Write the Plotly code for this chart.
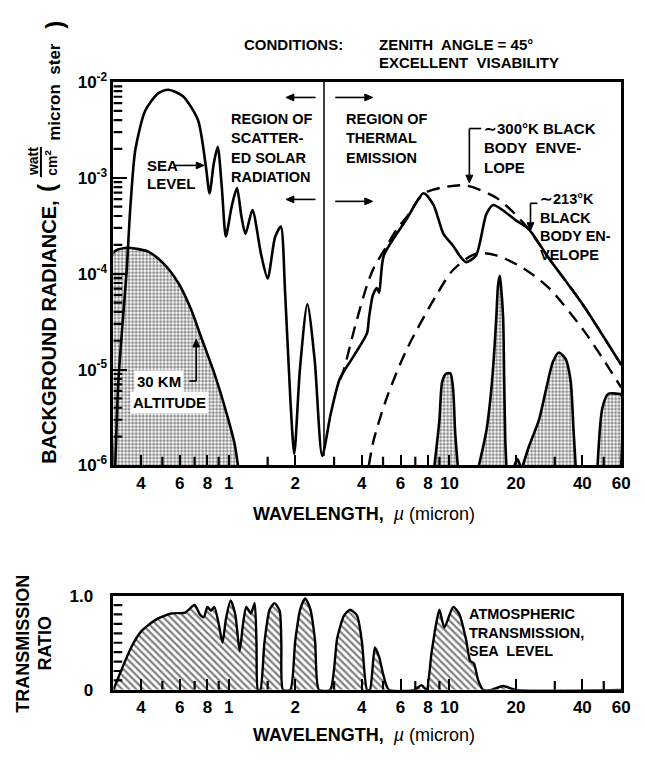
import plotly.graph_objects as go
import math

W, H = 645, 761

# ---------------- radiance panel data (wavelength in micron, radiance in W/cm^2/micron/ster)
SEA_WL = [0.306, 0.316, 0.330, 0.344, 0.358, 0.377, 0.418, 0.478, 0.531, 0.62, 0.725, 0.787,
          0.818, 0.855, 0.891, 0.93, 0.97, 1.03, 1.089, 1.14, 1.19, 1.28, 1.40, 1.50, 1.62,
          1.72, 1.80, 1.90, 1.98, 2.10, 2.27, 2.45, 2.65,
          2.90, 3.19, 3.70, 4.23, 4.32, 4.50, 4.69, 4.80, 5.04, 6.39, 7.63, 8.47, 9.39,
          10.4, 11.1, 11.9, 13.2, 14.7, 15.8, 20.0, 22.9, 28.2, 40.1, 60.0]
SEA_RAD = [1.0e-6, 7.6e-6, 3.0e-5, 1.02e-4, 4.9e-4, 1.95e-3, 5.0e-3, 7.6e-3, 8.3e-3, 7.1e-3, 4.0e-3, 1.32e-3,
           6.9e-4, 1.41e-3, 2.1e-3, 7.9e-4, 2.45e-4, 5.0e-4, 7.8e-4, 4.0e-4, 2.6e-4, 4.6e-4, 1.6e-4, 8.9e-5, 2.4e-4,
           3.1e-4, 6.3e-5, 5.0e-6, 1.32e-6, 1.0e-5, 4.8e-5, 1.26e-5, 1.26e-6,
           3.5e-6, 8.1e-6, 1.41e-5, 2.4e-5, 3.5e-5, 6.0e-5, 7.1e-5, 6.3e-5, 1.55e-4, 3.7e-4, 6.9e-4, 5.2e-4, 2.6e-4,
           1.95e-4, 1.55e-4, 1.32e-4, 1.55e-4, 4.2e-4, 5.2e-4, 3.6e-4, 2.9e-4, 1.45e-4, 4.8e-5, 1.12e-5]

ALT30_WL = [0.30, 0.344, 0.382, 0.431, 0.504, 0.589, 0.673, 0.746, 0.863, 0.988, 1.064, 1.10]
ALT30_RAD = [1.66e-4, 1.86e-4, 1.82e-4, 1.70e-4, 1.29e-4, 8.1e-5, 4.3e-5, 2.24e-5, 8.9e-6, 3.2e-6, 1.66e-6, 1.0e-6]

BB300_WL = [3.2, 3.33, 3.73, 4.23, 4.54, 5.20, 5.77, 6.40, 7.63, 9.2, 11.9, 16.3, 19.4, 22.9, 28.2, 40.1, 60.0]
BB300_RAD = [7.9e-6, 1.02e-5, 2.8e-5, 7.6e-5, 1.15e-4, 1.95e-4, 2.9e-4, 3.9e-4, 6.8e-4, 7.9e-4, 8.3e-4,
             6.2e-4, 4.4e-4, 2.9e-4, 1.45e-4, 4.8e-5, 1.12e-5]

BB213_WL = [4.31, 4.54, 5.20, 6.40, 8.73, 10.4, 13.2, 16.3, 21.5, 28.2, 41.4, 60.0]
BB213_RAD = [1.0e-6, 1.86e-6, 5.1e-6, 1.62e-5, 6.0e-5, 1.10e-4, 1.62e-4, 1.55e-4, 1.15e-4, 7.1e-5, 2.4e-5, 6.5e-6]

# emission bands seen from 30 km
OZONE_WL = [8.55, 9.0, 9.28, 9.68, 10.1, 10.4, 10.6, 10.9]
OZONE_RAD = [1.0e-6, 2.95e-6, 7.6e-6, 9.1e-6, 9.1e-6, 6.0e-6, 2.3e-6, 1.0e-6]
CO2_WL = [13.6, 14.7, 15.3, 15.8, 16.3, 16.6, 16.9, 17.1, 17.5, 17.7, 17.9, 18.1]
CO2_RAD = [1.0e-6, 2.3e-6, 4.8e-6, 1.12e-5, 3.5e-5, 7.6e-5, 9.5e-5, 7.6e-5, 3.5e-5, 7.6e-6, 1.86e-6, 1.0e-6]
SMALL_WL = [19.7, 20.3, 20.9]
SMALL_RAD = [1.0e-6, 1.17e-6, 1.0e-6]
FAR1_WL = [21.5, 22.9, 25.4, 27.3, 29.4, 31.3, 33.6, 35.4, 36.5, 37.3]
FAR1_RAD = [1.0e-6, 1.58e-6, 2.95e-6, 6.0e-6, 1.2e-5, 1.51e-5, 1.29e-5, 7.6e-6, 2.3e-6, 1.0e-6]
FAR2_WL = [46.9, 49.3, 52.5, 57.6, 60.0, 60.0]
FAR2_RAD = [1.0e-6, 4.0e-6, 5.6e-6, 5.6e-6, 5.5e-6, 1.0e-6]

DIVIDE_WL = 2.7          # boundary between scattered-solar and thermal regions
DIVIDE_RAD = [1.0e-2, 1.26e-6]

# ---------------- transmission panel data
TRANS_WL = [0.30, 0.326, 0.361, 0.401, 0.464, 0.547, 0.633, 0.70, 0.74, 0.77, 0.80, 0.83, 0.86, 0.90,
            0.937, 0.97, 1.02, 1.07, 1.12, 1.16, 1.20, 1.26, 1.31, 1.335, 1.355,
            1.39, 1.45, 1.53, 1.61, 1.70, 1.73, 1.76,
            1.90, 2.00, 2.11, 2.22, 2.34, 2.46, 2.56,
            2.88, 3.10, 3.33, 3.54, 3.81, 4.01, 4.23,
            4.36, 4.59, 4.80, 5.00, 5.31,
            6.95, 7.47, 7.87, 8.28, 8.73, 9.0, 9.48, 10.4, 11.1, 11.9, 12.4, 12.9, 13.5, 14.2,
            15.5, 17.5, 20.0, 60.0]
TRANS = [0.0, 0.21, 0.45, 0.62, 0.74, 0.81, 0.82, 0.90, 0.80, 0.77, 0.88, 0.84, 0.88, 0.70,
         0.50, 0.75, 0.95, 0.80, 0.41, 0.70, 0.88, 0.81, 0.92, 0.50, 0.0,
         0.0, 0.50, 0.85, 0.92, 0.84, 0.50, 0.0,
         0.0, 0.52, 0.86, 0.97, 0.86, 0.52, 0.0,
         0.0, 0.55, 0.79, 0.85, 0.79, 0.51, 0.0,
         0.0, 0.45, 0.35, 0.17, 0.0,
         0.0, 0.05, 0.0, 0.38, 0.72, 0.85, 0.66, 0.88, 0.80, 0.53, 0.31, 0.28, 0.10, 0.0,
         0.0, 0.04, 0.0, 0.0]

X_TICKS = [0.4, 0.6, 0.8, 1, 2, 4, 6, 8, 10, 20, 40, 60]
X_TICKTEXT = ["4", "6", "8", "1", "2", "4", "6", "8", "10", "20", "40", "60"]
X_MINOR = [0.5, 0.7, 0.9, 1.5, 3, 5, 7, 9, 30, 50]
Y_TICKS = [1e-6, 1e-5, 1e-4, 1e-3, 1e-2]
Y_TICKTEXT = ["10<sup>-6</sup>", "10<sup>-5</sup>", "10<sup>-4</sup>", "10<sup>-3</sup>", "10<sup>-2</sup>"]
Y_MINOR = [k * 10.0 ** e for e in range(-6, -2) for k in range(2, 10)]
T_TICKS = [0, 1.0]
T_TICKTEXT = ["0", "1.0"]
T_MINOR = [0.1, 0.2, 0.3, 0.4, 0.5, 0.6, 0.7, 0.8, 0.9]

X_MIN, X_MAX = 0.3, 60.0
Y_MIN, Y_MAX = 1e-6, 1e-2

FONT = "Liberation Sans, Arial, sans-serif"

# pixel geometry of the two panels
PLOT_L, PLOT_R = 115, 630
TOP_T, TOP_B = 72, 467
BOT_T, BOT_B = 601, 698


def pxx(x):
    return x / W


def pxy(y):
    return 1 - y / H


fig = go.Figure()

stipple = dict(shape=".", fgcolor="#1a1a1a", bgcolor="white", size=3.5, solidity=0.55)

# 30 km altitude radiance (stippled)
fig.add_trace(go.Scatter(
    x=[ALT30_WL[0]] + ALT30_WL, y=[Y_MIN] + ALT30_RAD, mode="lines", fill="toself",
    fillpattern=stipple, line=dict(color="black", width=2.6, shape="spline", smoothing=0.8),
    xaxis="x", yaxis="y", hoverinfo="skip"))

# emission bands (stippled)
for wl, rad in [(OZONE_WL, OZONE_RAD), (CO2_WL, CO2_RAD), (SMALL_WL, SMALL_RAD),
                (FAR1_WL, FAR1_RAD), (FAR2_WL, FAR2_RAD)]:
    fig.add_trace(go.Scatter(
        x=wl, y=rad, mode="lines", fill="toself", fillpattern=stipple,
        line=dict(color="black", width=2.6, shape="spline", smoothing=0.7),
        xaxis="x", yaxis="y", hoverinfo="skip"))

# blackbody envelopes
for wl, rad in [(BB300_WL, BB300_RAD), (BB213_WL, BB213_RAD)]:
    fig.add_trace(go.Scatter(
        x=wl, y=rad, mode="lines",
        line=dict(color="black", width=2.4, dash="13px,8px", shape="spline", smoothing=0.8),
        xaxis="x", yaxis="y", hoverinfo="skip"))

# sea level radiance
fig.add_trace(go.Scatter(
    x=SEA_WL, y=SEA_RAD, mode="lines",
    line=dict(color="black", width=2.6, shape="spline", smoothing=0.7),
    xaxis="x", yaxis="y", hoverinfo="skip"))

# divider between the two regions
fig.add_trace(go.Scatter(
    x=[DIVIDE_WL, DIVIDE_WL], y=DIVIDE_RAD, mode="lines",
    line=dict(color="black", width=1.5), xaxis="x", yaxis="y", hoverinfo="skip"))

# atmospheric transmission (hatched)
fig.add_trace(go.Scatter(
    x=TRANS_WL, y=TRANS, mode="lines", fill="tozeroy",
    fillpattern=dict(shape="\\", fgcolor="black", bgcolor="white", size=5, solidity=0.45),
    line=dict(color="black", width=2.4, shape="spline", smoothing=0.6),
    xaxis="x2", yaxis="y2", hoverinfo="skip"))

# ruler-style small ticks, drawn as short segments on the data scales
dec_x = math.log10(X_MAX / X_MIN) / (PLOT_R - PLOT_L)      # decades of x per pixel
dec_y = math.log10(Y_MAX / Y_MIN) / (TOP_B - TOP_T)        # decades of y per pixel
lin_t = 1.0 / (BOT_B - BOT_T)                              # transmission units per pixel


def tick_segments(vals, a, b, vertical):
    xs, ys = [], []
    for v in vals:
        if vertical:
            xs += [v, v, None]
            ys += [a, b, None]
        else:
            xs += [a, b, None]
            ys += [v, v, None]
    return xs, ys


tick_line = dict(color="black", width=2.2)
MINOR_LEN = 9
segs = [
    ("x", "y", tick_segments(X_MINOR, Y_MIN, Y_MIN * 10 ** (MINOR_LEN * dec_y), True)),
    ("x", "y", tick_segments(Y_MINOR, X_MIN, X_MIN * 10 ** (MINOR_LEN * dec_x), False)),
    ("x2", "y2", tick_segments(X_MINOR, 0, MINOR_LEN * lin_t, True)),
    ("x2", "y2", tick_segments(T_MINOR, X_MIN, X_MIN * 10 ** (MINOR_LEN * dec_x), False)),
]
for xa, ya, (xs, ys) in segs:
    fig.add_trace(go.Scatter(x=xs, y=ys, mode="lines", line=tick_line, xaxis=xa, yaxis=ya,
                             hoverinfo="skip", connectgaps=False))

x_dom = [pxx(PLOT_L), pxx(PLOT_R)]
xrange = [math.log10(X_MIN), math.log10(X_MAX)]
tfont = dict(family=FONT, size=17, color="black", weight=700)
axis_common = dict(showline=True, mirror=True, linewidth=2.6, linecolor="black",
                   showgrid=False, zeroline=False, ticks="inside", tickcolor="black",
                   tickwidth=2.2, tickfont=tfont, layer="above traces")

fig.update_layout(
    width=W, height=H, autosize=False,
    margin=dict(l=0, r=0, t=0, b=0),
    paper_bgcolor="white", plot_bgcolor="white",
    showlegend=False,
    font=dict(family=FONT, color="black"),
    xaxis=dict(domain=x_dom, type="log", range=xrange, anchor="y",
               tickvals=X_TICKS, ticktext=X_TICKTEXT, ticklen=11, **axis_common),
    yaxis=dict(domain=[pxy(TOP_B), pxy(TOP_T)], type="log",
               range=[math.log10(Y_MIN), math.log10(Y_MAX)], anchor="x",
               tickvals=Y_TICKS, ticktext=Y_TICKTEXT, ticklen=14, **axis_common),
    xaxis2=dict(domain=x_dom, type="log", range=xrange, anchor="y2",
                tickvals=X_TICKS, ticktext=X_TICKTEXT, ticklen=11, **axis_common),
    yaxis2=dict(domain=[pxy(BOT_B), pxy(BOT_T)], range=[0, 1], anchor="x2",
                tickvals=T_TICKS, ticktext=T_TICKTEXT, ticklen=12, ticklabelstandoff=14,
                **axis_common),
)

annotations = []
shapes = []


def text(t, x, y, size=14, anchor="left", angle=0, bold=True, bg=None):
    a = dict(text=t, x=pxx(x), y=pxy(y), xref="paper", yref="paper", showarrow=False,
             xanchor=anchor, yanchor="middle", textangle=angle,
             font=dict(family=FONT, size=size, color="black", weight=700 if bold else 400))
    if bg:
        a.update(bgcolor=bg, borderpad=2)
    annotations.append(a)


def seg(x0, y0, x1, y1, w=1.6):
    shapes.append(dict(type="line", xref="paper", yref="paper", x0=pxx(x0), y0=pxy(y0),
                       x1=pxx(x1), y1=pxy(y1), line=dict(color="black", width=w)))


def arrow(x0, y0, x1, y1, head=8, half=3.5):
    # shaft plus a filled triangular head pointing at (x1, y1)
    dx, dy = x1 - x0, y1 - y0
    n = math.hypot(dx, dy)
    ux, uy = dx / n, dy / n
    bx, by = x1 - ux * head, y1 - uy * head
    seg(x0, y0, bx, by)
    pts = [(x1, y1), (bx - uy * half, by + ux * half), (bx + uy * half, by - ux * half)]
    path = "M " + " L ".join(f"{pxx(px):.5f},{pxy(py):.5f}" for px, py in pts) + " Z"
    shapes.append(dict(type="path", xref="paper", yref="paper", path=path,
                       fillcolor="black", line=dict(color="black", width=1)))


# heading
text("CONDITIONS:", 245, 33, size=15)
text("ZENITH  ANGLE = 45°", 382, 33, size=15)
text("EXCELLENT  VISABILITY", 382, 52, size=15)

# left axis title
text("BACKGROUND RADIANCE,", 50, 330, size=20, anchor="center", angle=-90)
text("(", 47, 181, size=24, anchor="center", angle=-90)
text("watt", 33, 154, size=14, anchor="center", angle=-90)
seg(41.5, 139, 41.5, 170, w=2)
text("cm<sup>2</sup>", 51, 155, size=14, anchor="center", angle=-90)
text("micron  ster", 55, 82, size=17, anchor="center", angle=-90)
text(")", 55, 13, size=24, anchor="center", angle=-90)

# radiance panel labels
text("SEA", 147, 158, size=15)
text("LEVEL", 147, 177, size=15)
arrow(177, 158, 207, 158)

for i, line in enumerate(["REGION OF", "SCATTER-", "ED SOLAR", "RADIATION"]):
    text(line, 232, 110 + 20 * i, size=14.5)
arrow(320, 88, 290, 88)
arrow(320, 193, 290, 193)

for i, line in enumerate(["REGION OF", "THERMAL", "EMISSION"]):
    text(line, 349, 110 + 20 * i, size=14.5)
arrow(340, 88, 378, 88)
arrow(340, 195, 378, 195)

for i, line in enumerate(["∼300°K BLACK", "BODY  ENVE-", "LOPE"]):
    text(line, 489, 120 + 20 * i, size=15)
seg(488, 120, 476, 120)
arrow(476, 120, 476, 176)

for i, line in enumerate(["∼213°K", "BLACK", "BODY EN-", "VELOPE"]):
    text(line, 546, 193 + 19 * i, size=14.5)
seg(545, 197, 538, 197)
arrow(538, 197, 538, 225)

text("30 KM", 136, 380, size=15, bg="white")
text("ALTITUDE", 132, 402, size=15, bg="white")
seg(192, 380, 199, 380)
arrow(199, 380, 199, 337)

text("<b>WAVELENGTH,</b>  <i>µ</i> (micron)", 369, 517, size=18, anchor="center", bold=False)

# transmission panel labels
text("TRANSMISSION", 24, 651, size=18, anchor="center", angle=-90)
text("RATIO", 46, 650, size=18, anchor="center", angle=-90)
for i, line in enumerate(["ATMOSPHERIC", "TRANSMISSION,", "SEA  LEVEL"]):
    text(line, 474, 620 + 19 * i, size=14.5)
text("<b>WAVELENGTH,</b>  <i>µ</i> (micron)", 369, 745, size=18, anchor="center", bold=False)

fig.update_layout(annotations=annotations, shapes=shapes)

fig.write_html("out.html")
